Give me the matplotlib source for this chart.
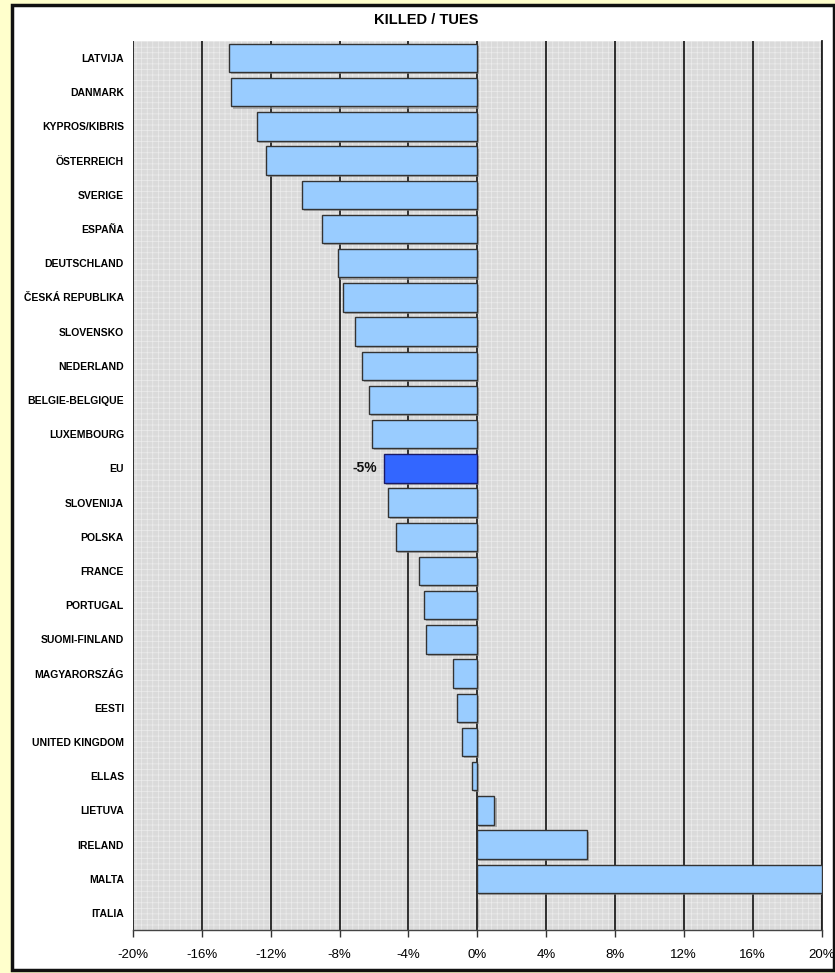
import matplotlib
matplotlib.use("Agg")
import matplotlib.pyplot as plt
from matplotlib.patches import Rectangle
from matplotlib import patheffects as pe
from matplotlib.ticker import FuncFormatter
from matplotlib import font_manager as fm

countries = [
    "LATVIJA", "DANMARK", "KYPROS/KIBRIS", "ÖSTERREICH", "SVERIGE", "ESPAÑA",
    "DEUTSCHLAND", "ČESKÁ REPUBLIKA", "SLOVENSKO", "NEDERLAND", "BELGIE-BELGIQUE",
    "LUXEMBOURG", "EU", "SLOVENIJA", "POLSKA", "FRANCE", "PORTUGAL",
    "SUOMI-FINLAND", "MAGYARORSZÁG", "EESTI", "UNITED KINGDOM", "ELLAS",
    "LIETUVA", "IRELAND", "MALTA", "ITALIA",
]
change_pct = [
    -14.4, -14.3, -12.8, -12.3, -10.2, -9.0,
    -8.1, -7.8, -7.1, -6.7, -6.3,
    -6.1, -5.4, -5.2, -4.7, -3.4, -3.1,
    -3.0, -1.4, -1.2, -0.9, -0.3,
    1.0, 6.4, 20.0, 0.0,
]
highlight = "EU"
x_ticks = [-20, -16, -12, -8, -4, 0, 4, 8, 12, 16, 20]
title = "KILLED / TUES"

# pick a narrow sans face when one is available
installed = {f.name for f in fm.fontManager.ttflist}
families = [f for f in ["Liberation Sans Narrow", "DejaVu Sans Condensed",
                        "Liberation Sans"] if f in installed] + ["DejaVu Sans"]
plt.rcParams["font.family"] = families
plt.rcParams["hatch.linewidth"] = 0.5

W, H = 835, 973
fig = plt.figure(figsize=(W / 100, H / 100), dpi=100)
fig.patch.set_facecolor("#FFFFCC")

# white framed panel behind the chart
frame = Rectangle((12 / W, 1 - 970 / H), (834 - 12) / W, (970 - 5) / H,
                  transform=fig.transFigure, facecolor="white",
                  edgecolor="#111111", linewidth=2.5, zorder=-1)
fig.patches.append(frame)

ax = fig.add_axes([133 / W, 1 - 930 / H, (821.5 - 133) / W, (930 - 41) / H])
ax.set_zorder(2)
ax.set_facecolor("#DADADA")
ax.patch.set_hatch("+++")
ax.patch.set_edgecolor("#ECECEC")
ax.patch.set_linewidth(0)

n = len(countries)
ypos = list(range(n))
colors = ["#3366FF" if c == highlight else "#99CCFF" for c in countries]
edges = ["#1a1a66" if c == highlight else "#333333" for c in countries]

bars = ax.barh(ypos, change_pct, height=0.83, color=colors, edgecolor=edges,
               linewidth=1.0, zorder=3)
for b in bars:
    b.set_path_effects([pe.SimplePatchShadow(offset=(1.5, -1.5),
                                             shadow_rgbFace="#888888", alpha=0.6),
                        pe.Normal()])

for i, (c, v) in enumerate(zip(countries, change_pct)):
    if c == highlight:
        ax.annotate(f"{v:.0f}%", xy=(v, i), xytext=(-5, 0),
                    textcoords="offset points", ha="right", va="center",
                    fontsize=10, fontweight="bold", color="#111111")

ax.set_xlim(-20, 20)
ax.set_ylim(n - 0.5, -0.5)
ax.set_xticks(x_ticks)
ax.xaxis.set_major_formatter(FuncFormatter(lambda v, p: f"{v:.0f}%"))
ax.set_yticks(ypos)
ax.set_yticklabels(countries, fontsize=7.5, fontweight="bold")
ax.tick_params(axis="y", length=0, pad=6.5)
ax.tick_params(axis="x", length=5, width=1, color="#333333", labelsize=9.5,
               pad=9, direction="out")

ax.grid(axis="x", color="black", linewidth=1.1, zorder=1)
ax.set_axisbelow(True)
for side in ["top", "left"]:
    ax.spines[side].set_visible(False)
ax.spines["right"].set_color("#222222")
ax.spines["right"].set_linewidth(1.3)
ax.spines["bottom"].set_color("#444444")
ax.spines["bottom"].set_linewidth(1.0)

fig.text(426 / W, 1 - 20 / H, title, ha="center", va="center",
         fontsize=10.5, fontweight="bold")

fig.savefig("out.png", dpi=100, facecolor=fig.get_facecolor())
